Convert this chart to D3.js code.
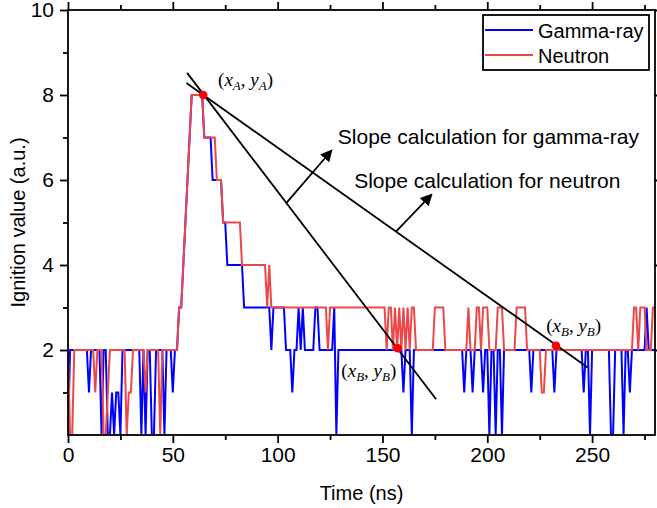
<!DOCTYPE html>
<html><head><meta charset="utf-8">
<script src="https://cdn.jsdelivr.net/npm/d3@7"></script>
<style>body{margin:0;background:#fff} svg{display:block}</style>
</head><body>
<svg id="c" width="657" height="508"></svg>
<script>
// sampling grid (ns)
const time = d3.range(0, 281, 1);
// Gamma-ray ignition value, one sample per ns (t = 0..280)
const gamma = [
0,2,2,2,2,2,2,2,2,2,
1,2,2,2,2,2,0,2,2,0,
0,1,0,1,1,0,2,2,2,2,
2,2,2,2,2,0,2,0,2,2,
0,0,2,2,2,2,0,2,2,2,
1,2,2,3,3,4,5,6,7,8,
8,8,8,8,8,7,7,7,7,6,
6,6,6,6,5,5,4,4,4,4,
4,4,4,4,3,3,3,3,3,3,
3,3,3,3,3,3,3,2,3,3,
3,3,3,3,2,2,2,1,2,2,
3,2,3,2,2,2,2,2,3,3,
2,2,2,2,2,2,2,3,0,2,
2,2,2,2,2,2,2,2,2,2,
2,2,2,2,2,2,2,2,2,2,
2,2,2,2,2,2,2,2,2,2,
1,2,2,2,0,2,2,2,2,2,
2,2,2,2,2,2,2,2,2,2,
2,2,2,2,2,2,2,2,2,1,
2,2,2,1,2,2,2,2,1,2,
2,0,2,2,0,2,2,0,2,2,
2,2,2,2,2,2,2,2,2,2,
2,1,2,2,2,2,2,2,2,2,
2,2,1,2,2,2,2,2,2,2,
2,2,2,2,2,2,1,2,2,0,
2,2,2,2,2,2,2,2,2,0,
0,2,2,2,2,0,2,2,1,2,
2,2,2,2,2,2,3,2,2,2,
2];
// Neutron ignition value, one sample per ns (t = 0..280)
const neutron = [
2,0,0,2,2,2,2,2,2,2,
2,2,2,1,2,2,2,0,0,1,
2,2,2,2,2,2,2,2,0,1,
1,2,2,2,2,2,2,1,2,2,
2,2,2,2,0,2,2,2,2,2,
2,2,2,3,3,4,5,6,7,8,
8,8,8,8,8,7,7,7,7,7,
7,6,6,6,5,5,5,5,5,5,
5,5,5,4,4,4,4,4,4,4,
4,4,4,4,4,3,4,3,3,3,
3,3,3,3,3,3,3,3,3,3,
3,3,3,3,3,3,3,3,3,3,
3,3,3,3,2,3,3,3,3,3,
3,3,3,3,3,3,3,3,3,3,
3,3,3,3,3,3,3,3,3,3,
3,3,2,3,3,2,3,2,3,2,
3,2,3,2,3,3,2,2,2,2,
2,2,2,2,2,3,3,3,3,3,
2,2,2,2,2,2,2,2,2,2,
2,3,2,2,2,3,3,2,3,3,
3,2,2,2,2,3,3,3,2,2,
2,2,2,2,3,3,3,3,3,2,
2,2,2,2,2,2,1,1,2,2,
2,2,2,2,2,2,2,2,2,2,
2,2,2,2,2,2,2,2,2,2,
2,2,2,2,2,2,2,2,2,2,
2,2,2,2,2,2,2,2,2,2,
3,3,2,3,3,3,2,2,2,3,
3];
const seriesNames = ["Gamma-ray", "Neutron"];
const seriesColors = ["#0000ff", "#ec4848"];
const xMajor = [0, 50, 100, 150, 200, 250];
const xMinor = [25, 75, 125, 175, 225, 275];
const yMajor = [2, 4, 6, 8, 10];
const yMinor = [1, 3, 5, 7, 9];
// annotation geometry in data units (ns, a.u.)
const pointA = [64.5, 8];
const pointsB = [[157.3, 2.04], [232.8, 2.1]];
const slopeLines = [[[56.8, 8.52], [175.6, 0.84]], [[56.5, 8.28], [247.9, 1.59]]];
const arrowLines = [[[104, 5.45], [125.8, 6.7]], [[156.3, 4.78], [173.5, 5.66]]];
const noteTexts = ["Slope calculation for gamma-ray", "Slope calculation for neutron"];
const notePos = [[128.7, 6.85], [136.5, 5.82]];
const mathLabels = [["x", "A", "y", "A"], ["x", "B", "y", "B"], ["x", "B", "y", "B"]];
const mathPos = [[71.6, 8.21], [130.4, 1.36], [228.1, 2.42]];

const svg = d3.select("#c");
const m = {l: 68, t: 10, r: 655, b: 435};
const x = d3.scaleLinear().domain([0, 280]).range([m.l, m.r]);
const y = d3.scaleLinear().domain([0, 10]).range([m.b, m.t]);
const FONT = "Liberation Sans, Arial, sans-serif";

const defs = svg.append("defs");
defs.append("clipPath").attr("id", "clip").append("rect")
  .attr("x", m.l).attr("y", m.t).attr("width", m.r - m.l).attr("height", m.b - m.t);
defs.append("marker").attr("id", "arr").attr("viewBox", "0 0 10 10")
  .attr("refX", 9).attr("refY", 5).attr("markerWidth", 12).attr("markerHeight", 12)
  .attr("markerUnits", "userSpaceOnUse").attr("orient", "auto")
  .append("path").attr("d", "M0,0 L10,5 L0,10 Z").attr("fill", "#000");

// data lines
const line = d3.line().x((d, i) => x(time[i])).y(d => y(d));
const plot = svg.append("g").attr("clip-path", "url(#clip)");
[gamma, neutron].forEach((s, k) => {
  plot.append("path").datum(s).attr("d", line)
    .attr("fill", "none").attr("stroke", seriesColors[k]).attr("stroke-width", 2)
    .attr("stroke-linejoin", "miter");
});

// slope lines
const pl = d3.line().x(d => x(d[0])).y(d => y(d[1]));
slopeLines.forEach(s => svg.append("path").datum(s).attr("d", pl)
  .attr("stroke", "#000").attr("stroke-width", 1.8).attr("fill", "none"));
arrowLines.forEach(s => svg.append("path").datum(s).attr("d", pl)
  .attr("stroke", "#000").attr("stroke-width", 1.8).attr("fill", "none")
  .attr("marker-end", "url(#arr)"));

// points
[pointA, ...pointsB].forEach(p => svg.append("circle")
  .attr("cx", x(p[0])).attr("cy", y(p[1])).attr("r", 4.3).attr("fill", "#ff0000"));

// notes
noteTexts.forEach((t, i) => svg.append("text").attr("x", x(notePos[i][0])).attr("y", y(notePos[i][1]))
  .attr("font-family", FONT).attr("font-size", 21).attr("fill", "#000").text(t));

// math labels
mathLabels.forEach((lab, i) => {
  const t = svg.append("text").attr("x", x(mathPos[i][0])).attr("y", y(mathPos[i][1]))
    .attr("font-family", "Liberation Serif, Times New Roman, serif").attr("font-size", 19).attr("fill", "#000");
  t.append("tspan").text("(");
  t.append("tspan").attr("font-style", "italic").text(lab[0]);
  t.append("tspan").attr("font-style", "italic").attr("font-size", 13).attr("dy", 4).text(lab[1]);
  t.append("tspan").attr("dy", -4).text(", ");
  t.append("tspan").attr("font-style", "italic").text(lab[2]);
  t.append("tspan").attr("font-style", "italic").attr("font-size", 13).attr("dy", 4).text(lab[3]);
  t.append("tspan").attr("dy", -4).text(")");
});

// axes
function styleAxis(g) {
  g.select(".domain").remove();
  g.selectAll("line").attr("stroke", "#000").attr("stroke-width", 1.8);
  g.selectAll("text").attr("font-family", FONT).attr("font-size", 21).attr("fill", "#000");
}
svg.append("g").attr("transform", `translate(0,${m.b})`)
  .call(d3.axisBottom(x).tickValues(xMajor).tickSize(8).tickPadding(4).tickFormat(d3.format("d"))).call(styleAxis);
svg.append("g").attr("transform", `translate(0,${m.b})`)
  .call(d3.axisBottom(x).tickValues(xMinor).tickSize(5).tickFormat("")).call(styleAxis);
svg.append("g").attr("transform", `translate(0,${m.t})`)
  .call(d3.axisTop(x).tickValues(xMajor).tickSize(8).tickFormat("")).call(styleAxis);
svg.append("g").attr("transform", `translate(0,${m.t})`)
  .call(d3.axisTop(x).tickValues(xMinor).tickSize(5).tickFormat("")).call(styleAxis);
svg.append("g").attr("transform", `translate(${m.l},0)`)
  .call(d3.axisLeft(y).tickValues(yMajor).tickSize(8).tickPadding(6).tickFormat(d3.format("d"))).call(styleAxis);
svg.append("g").attr("transform", `translate(${m.l},0)`)
  .call(d3.axisLeft(y).tickValues(yMinor).tickSize(5).tickFormat("")).call(styleAxis);
svg.append("g").attr("transform", `translate(${m.r},0)`)
  .call(d3.axisRight(y).tickValues(yMajor).tickSize(8).tickFormat("")).call(styleAxis);
svg.append("rect").attr("x", m.l).attr("y", m.t).attr("width", m.r - m.l).attr("height", m.b - m.t)
  .attr("fill", "none").attr("stroke", "#000").attr("stroke-width", 1.8);

// axis titles
svg.append("text").attr("x", (m.l + m.r) / 2).attr("y", 500).attr("text-anchor", "middle")
  .attr("font-family", FONT).attr("font-size", 20).text("Time (ns)");
svg.append("text").attr("transform", `translate(25,${(m.t + m.b) / 2}) rotate(-90)`).attr("text-anchor", "middle")
  .attr("font-family", FONT).attr("font-size", 20).text("Ignition value (a.u.)");

// legend
const lg = svg.append("g");
lg.append("rect").attr("x", 483).attr("y", 15).attr("width", 166).attr("height", 55)
  .attr("fill", "#fff").attr("stroke", "#000").attr("stroke-width", 1.8);
seriesNames.forEach((n, i) => {
  const yy = 30 + i * 25;
  lg.append("line").attr("x1", 485).attr("x2", 533).attr("y1", yy).attr("y2", yy)
    .attr("stroke", seriesColors[i]).attr("stroke-width", 2);
  lg.append("text").attr("x", 538).attr("y", yy + 8).attr("font-family", FONT).attr("font-size", 20).text(n);
});
</script>
</body></html>
